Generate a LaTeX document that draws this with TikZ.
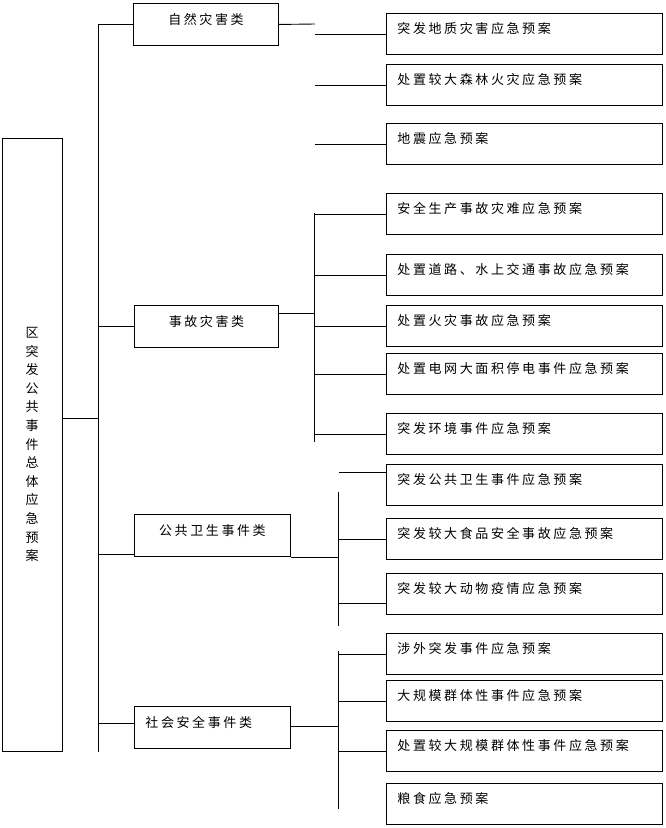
\documentclass[tikz,border=0pt]{standalone}
\usepackage{fontspec}
\newfontfamily\cjk[LetterSpace=20]{Noto Sans CJK SC}
\newfontfamily\cjkplain{Noto Sans CJK SC}

\begin{document}
\begin{tikzpicture}[x=1pt, y=-1pt, line width=0.9pt,
    kind/.style={draw, anchor=north west, inner xsep=0pt, inner ysep=0pt,
      text height=21pt, text depth=21pt, align=center,
      font=\cjk\fontsize{13pt}{15pt}\selectfont},
    plan/.style={draw, anchor=north west, text width=254pt, align=left,
      inner xsep=11pt, inner ysep=0pt, text height=20pt, text depth=21pt,
      font=\cjk\fontsize{13pt}{15pt}\selectfont}]
    \useasboundingbox (0,0) rectangle (666,828);

    \node[draw, minimum width=60pt, minimum height=613pt, inner sep=0pt,
      align=center, font=\cjkplain\fontsize{13pt}{18.6pt}\selectfont]
      (T) at (32,444.5) {区\\突\\发\\公\\共\\事\\件\\总\\体\\应\\急\\预\\案};

    \node[kind, text width=145pt] (C1) at (133,3) {自然灾害类};
    \node[kind, text width=144pt] (C2) at (134,305) {事故灾害类};
    \node[kind, text width=156pt] (C3) at (134,514) {公共卫生事件类};
    \node[kind, text width=134pt, align=left, inner xsep=11pt]
      (C4) at (134,706) {社会安全事件类};

    \node[plan] (L1) at (386,13) {突发地质灾害应急预案};
    \node[plan] (L2) at (386,64) {处置较大森林火灾应急预案};
    \node[plan] (L3) at (386,123) {地震应急预案};
    \node[plan] (L4) at (386,193) {安全生产事故灾难应急预案};
    \node[plan] (L5) at (386,254) {处置道路、水上交通事故应急预案};
    \node[plan] (L6) at (386,305) {处置火灾事故应急预案};
    \node[plan] (L7) at (386,353) {处置电网大面积停电事件应急预案};
    \node[plan] (L8) at (386,413) {突发环境事件应急预案};
    \node[plan] (L9) at (386,464) {突发公共卫生事件应急预案};
    \node[plan] (L10) at (386,518) {突发较大食品安全事故应急预案};
    \node[plan] (L11) at (386,573) {突发较大动物疫情应急预案};
    \node[plan] (L12) at (386,633) {涉外突发事件应急预案};
    \node[plan] (L13) at (386,680) {大规模群体性事件应急预案};
    \node[plan] (L14) at (386,730) {处置较大规模群体性事件应急预案};
    \node[plan] (L15) at (386,783) {粮食应急预案};

    % trunk
    \coordinate (K) at (98,24);
    \coordinate (KE) at (98,752);
    \coordinate (R) at (98,418);
    \coordinate (R3) at (98,554);
    \coordinate (R4) at (98,723);
    \draw (K) -- (KE);
    \draw (T.east |- R) -- (R);
    \draw (K |- C1.west) -- (C1.west);
    \draw (K |- C2.west) -- (C2.west);
    \draw (R3) -- (R3 -| C3.west);
    \draw (R4) -- (R4 -| C4.west);

    % natural
    \coordinate (B1) at (315,24);
    \draw (C1.east) -- (B1);
    \draw (B1 |- L1.west) -- (L1.west);
    \draw (B1 |- L2.west) -- (L2.west);
    \draw (B1 |- L3.west) -- (L3.west);

    % accident
    \coordinate (B2) at (314,313);
    \coordinate (B2t) at (314,213);
    \coordinate (B2b) at (314,442);
    \draw (B2 -| C2.east) -- (B2);
    \draw (B2t) -- (B2b);
    \draw (B2t |- L4.west) -- (L4.west);
    \draw (B2t |- L5.west) -- (L5.west);
    \draw (B2t |- L6.west) -- (L6.west);
    \draw (B2t |- L7.west) -- (L7.west);
    \draw (B2t |- L8.west) -- (L8.west);

    % health
    \coordinate (B3) at (338,557);
    \coordinate (B3t) at (338,492);
    \coordinate (B3b) at (338,626);
    \coordinate (B3c) at (338,603);
    \coordinate (B9) at (339,472);
    \draw (B3 -| C3.east) -- (B3);
    \draw (B3t) -- (B3b);
    \draw (B9) -- (B9 -| L9.west);
    \draw (B3t |- L10.west) -- (L10.west);
    \draw (B3c) -- (B3c -| L11.west);

    % society
    \coordinate (B4) at (338,726);
    \coordinate (B4t) at (338,651);
    \coordinate (B4b) at (338,809);
    \draw (B4 -| C4.east) -- (B4);
    \draw (B4t) -- (B4b);
    \draw (B4t |- L12.west) -- (L12.west);
    \draw (B4t |- L13.west) -- (L13.west);
    \draw (B4t |- L14.west) -- (L14.west);
\end{tikzpicture}
\end{document}
